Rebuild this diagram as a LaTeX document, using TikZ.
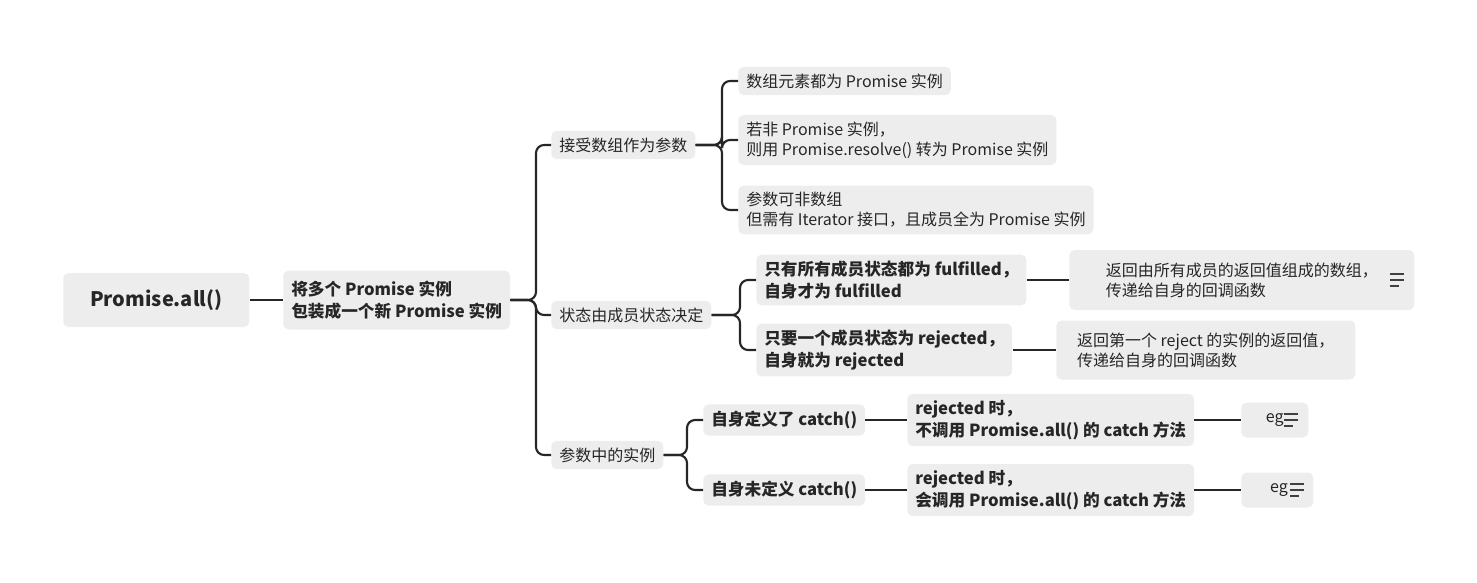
\documentclass[tikz,border=0pt]{standalone}
\usepackage{fontspec}
\setmainfont{Noto Sans CJK SC}
\begin{document}
\begin{tikzpicture}[x=0.75pt,y=-0.75pt,
  box/.style={fill=black!7,rounded corners=4pt,anchor=west,align=left,inner xsep=6pt,inner ysep=5pt,font=\fontsize{12pt}{15pt}\selectfont,text=black!85},
  bbox/.style={box,font=\bfseries\fontsize{12.5pt}{16pt}\selectfont},
  conn/.style={draw=black!85,line width=1.6pt,rounded corners=6pt}]
\useasboundingbox (0,0) rectangle (1477,582);
\node[box,font=\bfseries\fontsize{15pt}{18pt}\selectfont,minimum width=186*0.75pt,minimum height=54*0.75pt,align=center] (R) at (63,300) {Promise.all()};
\node[bbox,minimum height=59*0.75pt] (N) at (283,300) {将多个 Promise 实例\\包装成一个新 Promise 实例};
\node[box] (A) at (551,145) {接受数组作为参数};
\node[box] (B) at (551,315) {状态由成员状态决定};
\node[box] (C) at (551,455) {参数中的实例};
\node[box] (A1) at (738,81) {数组元素都为 Promise 实例};
\node[box] (A2) at (738,140) {若非 Promise 实例，\\则用 Promise.resolve() 转为 Promise 实例};
\node[box] (A3) at (738,210) {参数可非数组\\但需有 Iterator 接口，且成员全为 Promise 实例};
\node[bbox] (B1) at (756,280) {只有所有成员状态都为 fulfilled，\\自身才为 fulfilled};
\node[box,minimum width=345*0.75pt,minimum height=60*0.75pt] (B1a) at (1069,280) {返回由所有成员的返回值组成的数组，\\传递给自身的回调函数};
\node[bbox] (B2) at (756,350) {只要一个成员状态为 rejected，\\自身就为 rejected};
\node[box,minimum width=299*0.75pt,minimum height=59*0.75pt] (B2a) at (1056,350) {返回第一个 reject 的实例的返回值，\\传递给自身的回调函数};
\node[bbox] (C1) at (703,420) {自身定义了 catch()};
\node[bbox] (C1a) at (907,420) {rejected 时，\\不调用 Promise.all() 的 catch 方法};
\node[box,minimum width=67*0.75pt,minimum height=35*0.75pt] (C1b) at (1241,420) {eg};
\node[bbox] (C2) at (703,490) {自身未定义 catch()};
\node[bbox] (C2a) at (907,490) {rejected 时，\\会调用 Promise.all() 的 catch 方法};
\node[box,minimum width=72*0.75pt,minimum height=35*0.75pt] (C2b) at (1241,490) {\ eg};
% note icons
\foreach \x/\y in {1390/280,1284/420,1290/490}{
  \draw[black!75,line width=1.1pt] (\x,\y-6) -- ++(14,0) (\x,\y) -- ++(14,0) (\x,\y+6) -- ++(9,0);}
% connectors
\draw[conn] (R.east) -- (N.west);
\foreach \t in {A,B,C}{\draw[conn] (N.east) -- (536,300) |- (\t.west);}
\foreach \t in {A1,A2,A3}{\draw[conn] (A.east) -- (722,145) |- (\t.west);}
\foreach \t in {B1,B2}{\draw[conn] (B.east) -- (740,315) |- (\t.west);}
\foreach \t in {C1,C2}{\draw[conn] (C.east) -- (687,455) |- (\t.west);}
\draw[conn] (B1.east) -- (B1a.west);
\draw[conn] (B2.east) -- (B2a.west);
\draw[conn] (C1.east) -- (C1a.west);
\draw[conn] (C1a.east) -- (C1b.west);
\draw[conn] (C2.east) -- (C2a.west);
\draw[conn] (C2a.east) -- (C2b.west);
\end{tikzpicture}
\end{document}
